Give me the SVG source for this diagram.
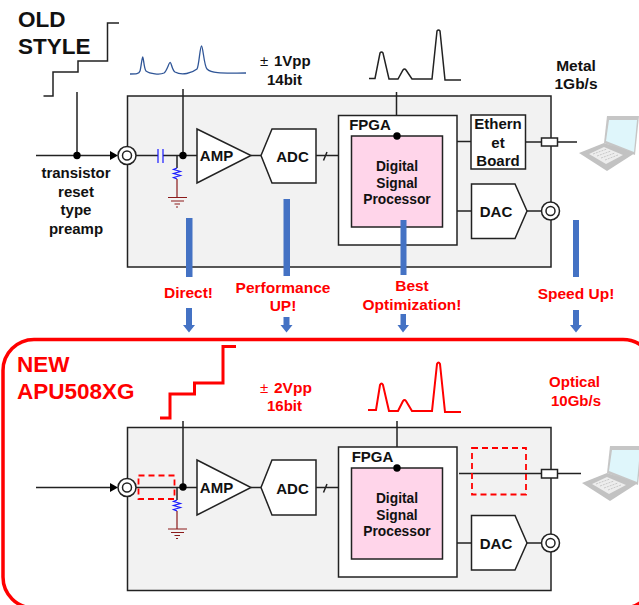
<svg xmlns="http://www.w3.org/2000/svg" width="639" height="605" viewBox="0 0 639 605">
<style>
text{font-family:"Liberation Sans",Arial,sans-serif;font-weight:700;fill:#111;text-anchor:middle;font-size:15px}
.r{fill:#f00;font-size:15.500px}
.m{font-size:15.500px}
.s{font-size:13.800px}
.t{font-size:22.500px;text-anchor:start}
.pm{font-weight:400;text-anchor:start;font-size:15px}
.st{text-anchor:start}
.panel{fill:#f2f2f2;stroke:#222;stroke-width:1.500}
.box{fill:#fff;stroke:#222;stroke-width:1.500}
.dsp{fill:#ffd5ea;stroke:#222;stroke-width:1.500}
.w{fill:none;stroke:#222;stroke-width:1.500}
.d{fill:#000}
.blue{fill:none;stroke:#1a1aff;stroke-width:1.200}
.gnd{fill:none;stroke:#8b1a1a;stroke-width:1.200}
.bar{fill:#4472c4}
.rw{fill:none;stroke:#f00;stroke-width:2}
.dash{fill:none;stroke:#f00;stroke-width:1.800;stroke-dasharray:6 4}
</style>
<defs>
<g id="laptop">
<path d="M28 0H60L56 39L25 27Z" fill="#c6c6c6"/>
<path d="M30 4H58L55 36L27 25Z" fill="#dff6fb"/>
<path d="M0 37L25 27L56 37L28 55Z" fill="#c2c2c2"/>
<path d="M10 38L25 31L44 39L27 48Z" fill="#ededed"/>
<path d="M14 38L28 33M18 40L32 35M22 42L36 37M26 44L39 39" fill="none" stroke="#c8c8c8" stroke-width="1" stroke-dasharray="2 1"/>
</g>
</defs>

<g id="new-frame"><rect x="3" y="339.500" width="651" height="268.500" rx="31" fill="none" stroke="#f00" stroke-width="3.500"/></g>

<g id="panel-old"><rect class="panel" x="127.500" y="96" width="423.500" height="171"/></g>
<g id="panel-new"><rect class="panel" x="127.500" y="427.500" width="423.500" height="163"/></g>

<g id="connectors">
<path class="w" d="M36 155.500H112M77 92V155.500M136 155.500H158M163 155.500H197M183 89V155.500M251 155.500H261M316 155.500H351.500M323.500 160.500L327 152M457 141.500H471M525.500 142H541.500M557.500 142H577M457 211H471.500M527 211H541.500M396.500 92V136"/>
<path class="d" d="M110 151L118 155.500L110 160Z"/>
<path class="blue" d="M158 149V163M163 149V163"/>
<path class="w" d="M177 155.500V168" stroke-width="1"/>
<path class="blue" d="M177 168L173.500 169.500L180.500 171.500L173.500 173.500L180.500 175.500L173.500 177.500L177 179"/>
<path class="gnd" d="M177 179V197.500M168 197.500H187M171 201H184M174.500 204H180M176 207H178"/>

<path class="w" d="M36 487.500H112M136 487.500H197M183 421V487.500M251 487.500H261M316 487.500H351.500M323.500 492.500L327 484M459 473.500H541.500M557.500 473.500H581M457 543H471.500M527 543H541.500M397 421V468"/>
<path class="d" d="M110 483L118 487.500L110 492Z"/>
<path class="w" d="M177 487.500V500" stroke-width="1"/>
<path class="blue" d="M177 500L173.500 501.500L180.500 503.500L173.500 505.500L180.500 507.500L173.500 509.500L177 511"/>
<path class="gnd" d="M177 511V529M168 529H187M171 532.500H184M174.500 535.500H180M176 538.500H178"/>
</g>

<g id="wave-old">
<path d="M130 74C136 74 139 74 140 71C141 68 142 57 142.700 57C143.500 57 144 69 146 71C150 74 160 75 164 73C167 71 169 62 170.300 62.500C171.500 63 172 70 175 72C182 76 192 73 197 69C199 66 200 46 201.500 46C203 46 204 66 207 69C212 74 225 73 246 73" fill="none" stroke="#2f5597" stroke-width="1.300"/>
<path class="w" d="M43.500 96H53V72H78V61H107.500V23H119"/>
<path class="w" d="M369 78.500H375L380 53Q381.500 51 383 53L389 79H398L403 70Q404.500 68 406 70L412 79H432L437 31Q438.500 29 440 31L445 80H461"/>
</g>
<g id="wave-new">
<path d="M160 418H170V394H194.500V383H223V346.500H236" fill="none" stroke="#f00" stroke-width="3"/>
<path class="rw" d="M368 410H376L380 385Q381.500 382 383 385L389 411H398L403 401Q404.500 399 406 401L412 411H432L437 364Q438.500 361 440 364L445 412H461"/>
</g>

<g id="amp-old"><path class="box" d="M197 129L251 155.500L197 183Z"/><text x="216.500" y="161">AMP</text></g>
<g id="adc-old"><path class="box" d="M272 129H316V183H272L261 155.500Z"/><text x="292.500" y="162">ADC</text></g>
<g id="fpga-old"><rect class="box" x="338.500" y="115.500" width="118.500" height="129.500"/><text x="370" y="130">FPGA</text></g>
<g id="dsp-old"><rect class="dsp" x="351.500" y="136" width="91" height="91"/><circle class="d" cx="397" cy="136" r="3.700"/>
<text class="s" x="397" y="171">Digital</text><text class="s" x="397" y="187.500">Signal</text><text class="s" x="397" y="204">Processor</text></g>
<g id="ethernet"><rect class="box" x="471" y="115" width="54.500" height="54"/><text x="498" y="129">Ethern</text><text x="498" y="148">et</text><text x="498" y="166">Board</text></g>
<g id="dac-old"><path class="box" d="M471.500 184H515L527 211L515 238.500H471.500Z"/><text x="496" y="217">DAC</text></g>
<g id="port-old"><rect class="box" x="541.500" y="138" width="16" height="8"/></g>
<g id="jacks-old">
<circle class="box" cx="127" cy="155.500" r="9"/><circle class="w" cx="127" cy="155.500" r="4.500"/>
<circle class="box" cx="550.500" cy="211" r="9"/><circle class="w" cx="550.500" cy="211" r="4.500"/>
<circle class="d" cx="77" cy="155.500" r="3.700"/><circle class="d" cx="183" cy="155.500" r="3.700"/>
</g>
<use id="laptop-old" href="#laptop" x="579" y="116"/>

<g id="amp-new"><path class="box" d="M197 460L251 487.500L197 515Z"/><text x="216.500" y="493">AMP</text></g>
<g id="adc-new"><path class="box" d="M272 460H316V515H272L261 487.500Z"/><text x="292.500" y="494">ADC</text></g>
<g id="fpga-new"><rect class="box" x="338.500" y="447" width="118.500" height="130"/><text x="372.500" y="462">FPGA</text></g>
<g id="dsp-new"><rect class="dsp" x="351.500" y="468" width="91" height="91"/><circle class="d" cx="397" cy="468" r="3.700"/>
<text class="s" x="397" y="503">Digital</text><text class="s" x="397" y="519.500">Signal</text><text class="s" x="397" y="536">Processor</text></g>
<g id="dac-new"><path class="box" d="M471.500 515.500H515L527 543L515 570H471.500Z"/><text x="496" y="549">DAC</text></g>
<g id="port-new"><rect class="box" x="541.500" y="469.500" width="16" height="8.500"/></g>
<g id="jacks-new">
<circle class="box" cx="127" cy="487.500" r="9"/><circle class="w" cx="127" cy="487.500" r="4.500"/>
<circle class="box" cx="550.500" cy="543" r="9"/><circle class="w" cx="550.500" cy="543" r="4.500"/>
<circle class="d" cx="183" cy="487" r="3.700"/>
</g>
<g id="removed"><rect class="dash" x="138.500" y="475.500" width="36" height="23.500"/><rect class="dash" x="472" y="448" width="54" height="46.500"/></g>
<use id="laptop-new" href="#laptop" x="582" y="446"/>

<g id="bars">
<rect class="bar" x="186" y="218" width="6.500" height="59"/>
<rect class="bar" x="283.500" y="199" width="6.500" height="77"/>
<rect class="bar" x="400.500" y="220" width="6" height="55"/>
<rect class="bar" x="573" y="220" width="6" height="57"/>
<path class="bar" d="M186 308H192V325H195L189 332.500L183 325H186Z"/>
<path class="bar" d="M283.500 317H289.500V325H292.500L286.500 332.500L280.500 325H283.500Z"/>
<path class="bar" d="M400.500 314H406V325H409L403 332.500L397.500 325H400.500Z"/>
<path class="bar" d="M573 310H579V325H582L576 332.500L570 325H573Z"/>
</g>

<g id="labels">
<text class="t" x="18" y="26.500">OLD</text><text class="t" x="18" y="53.500">STYLE</text>
<text class="pm" x="260" y="66">±</text><text class="st" x="274" y="66">1Vpp</text><text x="284.500" y="85">14bit</text>
<text x="76" y="178">transistor</text><text x="76" y="196.500">reset</text><text x="76" y="215">type</text><text x="76" y="234">preamp</text>
<text class="m" x="576" y="71">Metal</text><text class="m" x="576" y="89">1Gb/s</text>
<text class="r" x="188.500" y="298">Direct!</text>
<text class="r" x="283" y="293">Performance</text><text class="r" x="283" y="311">UP!</text>
<text class="r" x="412" y="291">Best</text><text class="r" x="412" y="310">Optimization!</text>
<text class="r" x="576" y="299">Speed Up!</text>
<text class="t r" x="17" y="372">NEW</text><text class="t r" x="17" y="399">APU508XG</text>
<text class="pm r" x="260" y="393">±</text><text class="st r" x="274" y="393">2Vpp</text><text class="r" x="284.500" y="411" style="font-size:15px">16bit</text>
<text class="r" x="574.500" y="387" style="font-size:15px">Optical</text><text class="r" x="576" y="406" style="font-size:15px">10Gb/s</text>
</g>
</svg>
